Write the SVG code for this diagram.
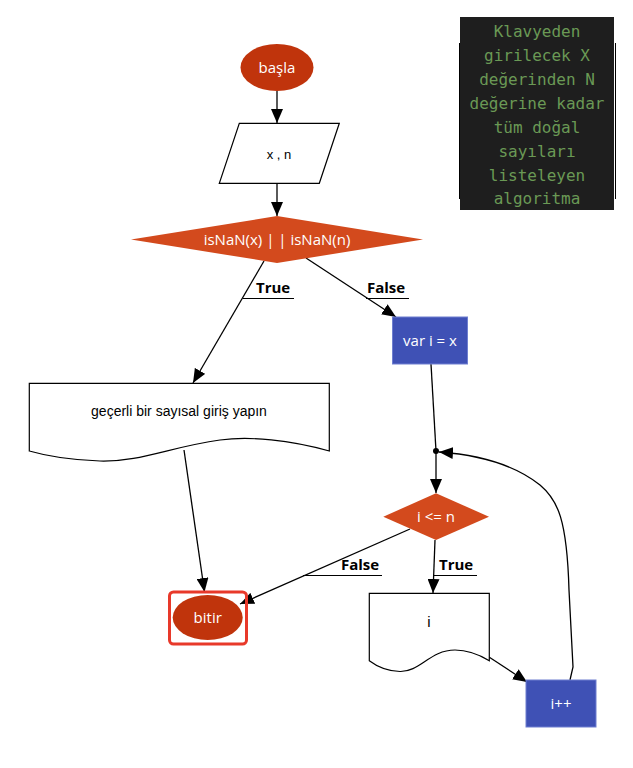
<svg xmlns="http://www.w3.org/2000/svg" width="633" height="768" viewBox="0 0 633 768">
<defs>
<style>
.edge{fill:none;stroke:#000;stroke-width:1.3}
.ul{stroke:#000;stroke-width:1.2}
.lbl{font-family:"Open Sans","Noto Sans",sans-serif;font-weight:bold;font-size:15px;fill:#000}
.wt{font-family:"Open Sans","Noto Sans",sans-serif;font-size:15px;fill:#fff;text-anchor:middle;dominant-baseline:central}
.bt{font-family:"Liberation Sans",Arial,sans-serif;font-size:13px;fill:#000;text-anchor:middle;dominant-baseline:central}
.doc{fill:#fff;stroke:#000;stroke-width:1.2}
.term{fill:#c0340c}
.dec{fill:#d34a1d}
.proc{fill:#3f51b5;stroke:#6f7fd0;stroke-width:1}
.cm{font-family:"DejaVu Sans Mono","Liberation Mono",monospace;font-size:16px;fill:#6a9955;text-anchor:middle;dominant-baseline:central}
</style>
<marker id="ahb" viewBox="0 0 14 12" refX="14" refY="6" markerWidth="14" markerHeight="12" markerUnits="userSpaceOnUse" orient="auto">
<path d="M0,0 L14,6 L0,12 Z" fill="#000"/>
</marker>
</defs>
<rect width="633" height="768" fill="#fff"/>

<g id="comment">
<line x1="459.5" y1="43" x2="459.5" y2="199" stroke="#000" stroke-width="1"/>
<line x1="615.5" y1="43" x2="615.5" y2="199" stroke="#000" stroke-width="1"/>
<rect x="460" y="17" width="154" height="193" fill="#1e1e1e"/>
<text class="cm" x="537" y="31">Klavyeden</text>
<text class="cm" x="537" y="55">girilecek X</text>
<text class="cm" x="537" y="79">değerinden N</text>
<text class="cm" x="537" y="103">değerine kadar</text>
<text class="cm" x="537" y="127">tüm doğal</text>
<text class="cm" x="537" y="151">sayıları</text>
<text class="cm" x="537" y="175">listeleyen</text>
<text class="cm" x="537" y="198">algoritma</text>
</g>

<g id="connectors">
<path class="edge" d="M277,91 L277,123" marker-end="url(#ahb)"/>
<path class="edge" d="M277,183 L277,216" marker-end="url(#ahb)"/>
<path class="edge" d="M264,261 L193,383" marker-end="url(#ahb)"/>
<line class="ul" x1="243" y1="298.5" x2="294" y2="298.5"/>
<text class="lbl" x="256" y="293">True</text>
<path class="edge" d="M306,258 L396,317" marker-end="url(#ahb)"/>
<line class="ul" x1="366" y1="298.5" x2="409" y2="298.5"/>
<text class="lbl" x="367" y="293">False</text>
<path class="edge" d="M184,450 L204.5,592" marker-end="url(#ahb)"/>
<path class="edge" d="M431,364 L436,451"/>
<circle cx="436" cy="451" r="3" fill="#000"/>
<path class="edge" d="M436,451 L436,493" marker-end="url(#ahb)"/>
<path class="edge" d="M410,529 L240,604" marker-end="url(#ahb)"/>
<line class="ul" x1="303" y1="575.5" x2="382" y2="575.5"/>
<text class="lbl" x="341" y="570">False</text>
<path class="edge" d="M435,540 L433,593" marker-end="url(#ahb)"/>
<line class="ul" x1="433" y1="575.5" x2="477" y2="575.5"/>
<text class="lbl" x="439" y="570">True</text>
<path class="edge" d="M489,657 L527,682" marker-end="url(#ahb)"/>
<path class="edge" d="M570,680 L573,667 L569,590 C567,520 558,500 540,485 C515,465 480,455 439,452" marker-end="url(#ahb)"/>
</g>

<g id="start">
<ellipse class="term" cx="277" cy="67.5" rx="36.5" ry="23.5"/>
<text class="wt" x="277" y="67">başla</text>
</g>

<g id="input">
<polygon class="doc" points="239.3,123.3 339.3,123.3 319.3,183.3 219.3,183.3"/>
<text class="bt" x="279" y="154">x , n</text>
</g>

<g id="check">
<polygon class="dec" points="277,216 423,239.5 277,263 131,239.5"/>
<text class="wt" x="277" y="239">isNaN(x) | | isNaN(n)</text>
</g>

<g id="errmsg">
<path class="doc" d="M29.3,383.3 L329.3,383.3 L329.3,451 C290,440 250,436 220,440 C170,447 140,462 100,461 C70,460 50,457 29.3,451 Z"/>
<text class="bt" x="179" y="411" style="font-size:14px">geçerli bir sayısal giriş yapın</text>
</g>

<g id="init">
<rect class="proc" x="392.5" y="317" width="75" height="47"/>
<text class="wt" x="430" y="340">var i = x</text>
</g>

<g id="loopcond">
<polygon class="dec" points="436,493.3 489,516.7 436,540 383.3,516.7"/>
<text class="wt" x="436" y="516">i &lt;= n</text>
</g>

<g id="output">
<path class="doc" d="M369.3,593.3 L489.3,593.3 L489.3,660.7 C475,652 462,650 455,650 C430,650 420,672 400,671.5 C385,671 375,665 369.3,660.7 Z"/>
<text class="bt" x="429" y="621" style="font-size:15px">i</text>
</g>

<g id="incr">
<rect class="proc" x="526" y="680" width="70" height="47"/>
<text class="wt" x="561" y="703">i++</text>
</g>

<g id="end">
<rect x="169.5" y="592" width="77" height="52" rx="4" fill="none" stroke="#e8392a" stroke-width="3"/>
<ellipse class="term" cx="207.7" cy="617.5" rx="35" ry="22.5"/>
<text class="wt" x="207.7" y="617">bitir</text>
</g>
</svg>
